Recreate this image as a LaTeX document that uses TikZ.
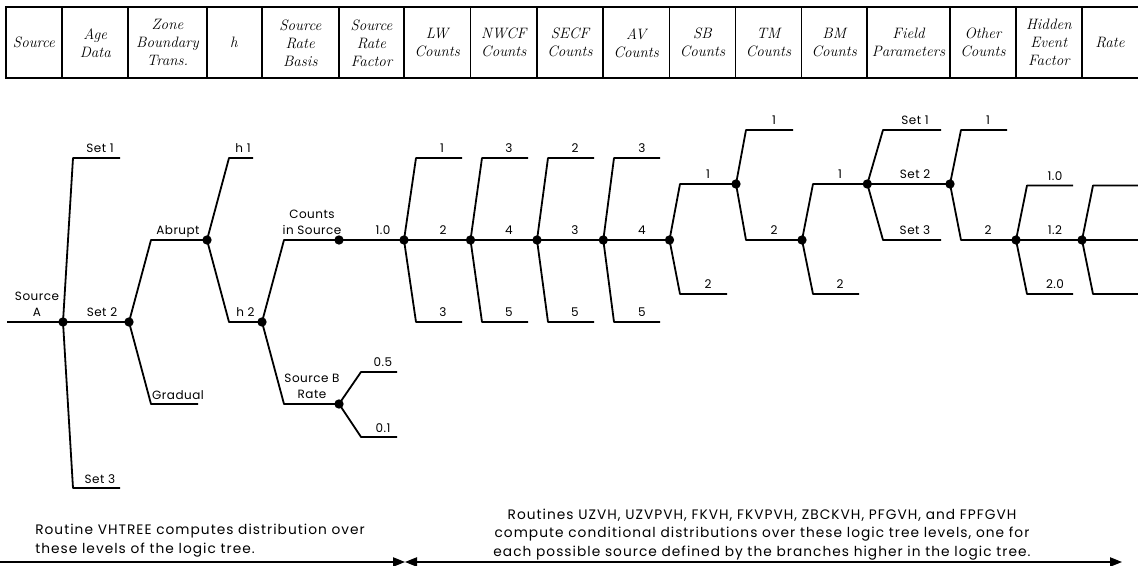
\documentclass[tikz,border=0pt]{standalone}
\usepackage{fontspec}
\newfontfamily\treefont{Poppins}[LetterSpace=4]
\newfontfamily\notefont{Poppins}[LetterSpace=7.5]
\usetikzlibrary{arrows.meta}
\tikzset{
  tline/.style={line width=1.35pt, line join=round},
  tbl/.style={line width=1.4pt},
  dot/.style={circle, fill=black, inner sep=0pt, minimum size=7pt},
  lab/.style={font=\treefont\fontsize{9}{12}\selectfont, anchor=base, inner sep=0pt},
  lab2/.style={font=\treefont\fontsize{9}{12}\selectfont, anchor=south, inner sep=0pt, align=center},
  hdr/.style={font=\itshape\fontsize{11.3}{13.5}\selectfont, align=center, inner sep=0pt},
  note/.style={font=\notefont\fontsize{10.3}{13.8}\selectfont, inner sep=0pt},
  arr/.style={line width=0.9pt, -{Triangle[length=9pt,width=7pt]}},
  arrb/.style={line width=0.9pt, {Triangle[length=9pt,width=7pt]}-{Triangle[length=9pt,width=7pt]}},
}
\begin{document}
\begin{tikzpicture}[x=0.75pt, y=-0.75pt]
\useasboundingbox (0,0) rectangle (1138,566);

% ---------------- header table ----------------
\draw[tbl] (1138,7.3) -- (6,7.3) -- (6,78.3) -- (1138,78.3);
\foreach \cx in {62.3,128.3,206.7,261.7,339,404,470.5,537,603,669.5,735.5,801.5,867,950,1016,1081.7}
  \draw[tbl] (\cx,7.3) -- (\cx,78.3);
\node[hdr] (h1)  at (34,42.8)    {Source};
\node[hdr] (h2)  at (95.3,42.8)  {Age\\Data};
\node[hdr] (h3)  at (167.5,42.8) {Zone\\Boundary\\Trans.};
\node[hdr] (h4)  at (234,42.8)   {h};
\node[hdr] (h5)  at (300.3,42.8) {Source\\Rate\\Basis};
\node[hdr] (h6)  at (371.5,42.8) {Source\\Rate\\Factor};
\node[hdr] (h7)  at (437.2,42.8) {LW\\Counts};
\node[hdr] (h8)  at (503.8,42.8) {NWCF\\Counts};
\node[hdr] (h9)  at (570,42.8)   {SECF\\Counts};
\node[hdr] (h10) at (636.2,42.8) {AV\\Counts};
\node[hdr] (h11) at (702.5,42.8) {SB\\Counts};
\node[hdr] (h12) at (768.5,42.8) {TM\\Counts};
\node[hdr] (h13) at (834.2,42.8) {BM\\Counts};
\node[hdr] (h14) at (908.5,42.8) {Field\\Parameters};
\node[hdr] (h15) at (983,42.8)   {Other\\Counts};
\node[hdr] (h16) at (1048.8,42.8) {Hidden\\Event\\Factor};
\node[hdr] (h17) at (1110,42.8)  {Rate};

% ---------------- tree nodes ----------------
\node[dot] (nA)   at (63,322) {};
\node[dot] (nS2)  at (129,322) {};
\node[dot] (nAb)  at (207,240) {};
\node[dot] (nH2)  at (262,322) {};
\node[dot] (nCS)  at (339,240) {};
\node[dot] (nSB)  at (339,404) {};
\node[dot] (nLW)  at (404,240) {};
\node[dot] (nNW)  at (470.5,240) {};
\node[dot] (nSE)  at (537,240) {};
\node[dot] (nAV)  at (603.3,240) {};
\node[dot] (nSBc) at (669.5,240) {};
\node[dot] (nTM)  at (736,184) {};
\node[dot] (nBM)  at (802,240) {};
\node[dot] (nFP)  at (867.3,184) {};
\node[dot] (nOC)  at (950,184) {};
\node[dot] (nHE)  at (1016,240) {};
\node[dot] (nRt)  at (1082,240) {};

% free ends
\coordinate (eStart) at (7,322);
\coordinate (eSet1) at (120,158);
\coordinate (eSet3) at (120,488);
\coordinate (eGrad) at (198,404);
\coordinate (eH1)   at (253,158);
\coordinate (e05)   at (397,372);
\coordinate (e01)   at (397,437);
\coordinate (eLWa)  at (462,158);
\coordinate (eLWc)  at (462,322);
\coordinate (eNWa)  at (528,158);
\coordinate (eNWc)  at (528,322);
\coordinate (eSEa)  at (594,158);
\coordinate (eSEc)  at (594,322);
\coordinate (eAVa)  at (660,158);
\coordinate (eAVc)  at (660,322);
\coordinate (eSBb)  at (727,294);
\coordinate (eTMa)  at (793,130);
\coordinate (eBMb)  at (859,294);
\coordinate (eFPa)  at (941,130);
\coordinate (eFPc)  at (941,240);
\coordinate (eOCa)  at (1007,130);
\coordinate (eHEa)  at (1073,185.5);
\coordinate (eHEc)  at (1073,294);
\coordinate (eRta)  at (1138,185.5);
\coordinate (eRtb)  at (1138,240);
\coordinate (eRtc)  at (1138,294);

% ---------------- connectors ----------------
\draw[tline] (eStart) -- (nA.center);
\draw[tline] (nA.center) -- (73,158) -- (eSet1);
\draw[tline] (nA.center) -- (nS2.center);
\draw[tline] (nA.center) -- (73,488) -- (eSet3);
\draw[tline] (nS2.center) -- (151,240) -- (nAb.center);
\draw[tline] (nS2.center) -- (151,404) -- (eGrad);
\draw[tline] (nAb.center) -- (229,158) -- (eH1);
\draw[tline] (nAb.center) -- (229,322) -- (nH2.center);
\draw[tline] (nH2.center) -- (284,240) -- (nCS.center);
\draw[tline] (nH2.center) -- (284,404) -- (nSB.center);
\draw[tline] (nSB.center) -- (361,372) -- (e05);
\draw[tline] (nSB.center) -- (361,437) -- (e01);
\draw[tline] (nCS.center) -- (nLW.center);
% LW
\draw[tline] (nLW.center) -- (416,158) -- (eLWa);
\draw[tline] (nLW.center) -- (nNW.center);
\draw[tline] (nLW.center) -- (416,322) -- (eLWc);
% NWCF
\draw[tline] (nNW.center) -- (482,158) -- (eNWa);
\draw[tline] (nNW.center) -- (nSE.center);
\draw[tline] (nNW.center) -- (482,322) -- (eNWc);
% SECF
\draw[tline] (nSE.center) -- (548,158) -- (eSEa);
\draw[tline] (nSE.center) -- (nAV.center);
\draw[tline] (nSE.center) -- (548,322) -- (eSEc);
% AV
\draw[tline] (nAV.center) -- (614,158) -- (eAVa);
\draw[tline] (nAV.center) -- (nSBc.center);
\draw[tline] (nAV.center) -- (614,322) -- (eAVc);
% SB
\draw[tline] (nSBc.center) -- (680,184) -- (nTM.center);
\draw[tline] (nSBc.center) -- (680,294) -- (eSBb);
% TM
\draw[tline] (nTM.center) -- (746,130) -- (eTMa);
\draw[tline] (nTM.center) -- (746,240) -- (nBM.center);
% BM
\draw[tline] (nBM.center) -- (813,184) -- (nFP.center);
\draw[tline] (nBM.center) -- (813,294) -- (eBMb);
% Field parameters
\draw[tline] (nFP.center) -- (883,130) -- (eFPa);
\draw[tline] (nFP.center) -- (nOC.center);
\draw[tline] (nFP.center) -- (883,240) -- (eFPc);
% Other counts
\draw[tline] (nOC.center) -- (961,130) -- (eOCa);
\draw[tline] (nOC.center) -- (961,240) -- (nHE.center);
% Hidden event factor
\draw[tline] (nHE.center) -- (1027,185.5) -- (eHEa);
\draw[tline] (nHE.center) -- (nRt.center);
\draw[tline] (nHE.center) -- (1027,294) -- (eHEc);
% Rate
\draw[tline] (nRt.center) -- (1093,185.5) -- (eRta);
\draw[tline] (nRt.center) -- (eRtb);
\draw[tline] (nRt.center) -- (1093,294) -- (eRtc);

% ---------------- labels ----------------
\node[lab2] (lSrcA) at (37,317) {Source\\A};
\node[lab] (lSet1) at (100,153) {Set 1};
\node[lab] (lSet2) at (102,317) {Set 2};
\node[lab] (lSet3) at (100,483) {Set 3};
\node[lab] (lAbr)  at (178,235) {Abrupt};
\node[lab] (lGrad) at (178,399) {Gradual};
\node[lab] (lh1)   at (243,153) {h 1};
\node[lab] (lh2)   at (245.5,317) {h 2};
\node[lab2] (lCIS) at (312,235) {Counts\\in Source};
\node[lab2] (lSBR) at (312,399) {Source B\\Rate};
\node[lab] (l05) at (383,367) {0.5};
\node[lab] (l01) at (383,432) {0.1};
\node[lab] (l10) at (383,235) {1.0};

\node[lab] (a1) at (442,153) {1};
\node[lab] (a2) at (443,235) {2};
\node[lab] (a3) at (443,317) {3};
\node[lab] (b1) at (509,153) {3};
\node[lab] (b2) at (509,235) {4};
\node[lab] (b3) at (509,317) {5};
\node[lab] (c1) at (575,153) {2};
\node[lab] (c2) at (575,235) {3};
\node[lab] (c3) at (575,317) {5};
\node[lab] (d1) at (642,153) {3};
\node[lab] (d2) at (642,235) {4};
\node[lab] (d3) at (642,317) {5};
\node[lab] (s1) at (708,179) {1};
\node[lab] (s2) at (708,289) {2};
\node[lab] (t1) at (774,125) {1};
\node[lab] (t2) at (774,235) {2};
\node[lab] (m1) at (840,179) {1};
\node[lab] (m2) at (840,289) {2};
\node[lab] (f1) at (915,125) {Set 1};
\node[lab] (f2) at (915,179) {Set 2};
\node[lab] (f3) at (915,235) {Set 3};
\node[lab] (o1) at (988,125) {1};
\node[lab] (o2) at (988,235) {2};
\node[lab] (x1) at (1055,180.5) {1.0};
\node[lab] (x2) at (1055,235) {1.2};
\node[lab] (x3) at (1055,289) {2.0};

% ---------------- bottom notes and arrows ----------------
\node[note, anchor=west, align=left] (noteL) at (35,540.5)
  {Routine VHTREE computes distribution over\\these levels of the logic tree.};
\node[note, align=center] (noteR) at (762,534.5)
  {Routines UZVH, UZVPVH, FKVH, FKVPVH, ZBCKVH, PFGVH, and FPFGVH\\
   compute conditional distributions over these logic tree levels, one for\\
   each possible source defined by the branches higher in the logic tree.};
\coordinate (aL) at (0,562);
\coordinate (aM) at (405,562);
\coordinate (aR) at (1122,562);
\draw[arr] (aL) -- (aM);
\draw[arrb] (aM) -- (aR);
\end{tikzpicture}
\end{document}
